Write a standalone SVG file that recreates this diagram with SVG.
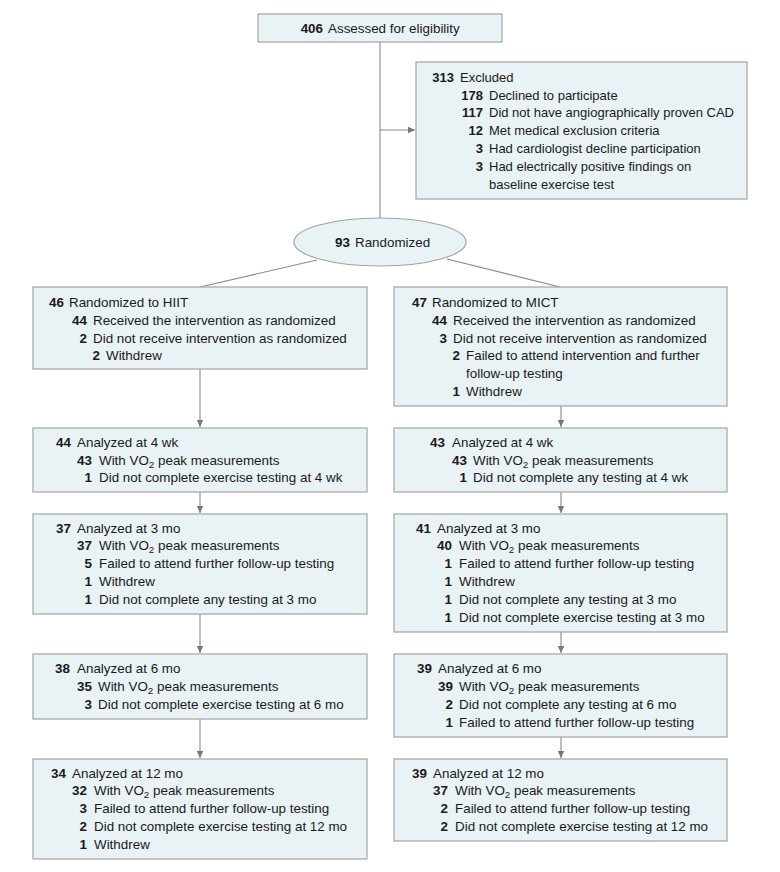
<svg xmlns="http://www.w3.org/2000/svg" width="780" height="872" viewBox="0 0 780 872">
<style>
.box{fill:#e9f2f5;stroke:#a3a3a3;stroke-width:1.2}
.ln{stroke:#8a8a8a;stroke-width:1.1;fill:none}
text{font-family:"Liberation Sans",Arial,sans-serif;font-size:13.4px;fill:#1a1a1a}
#excluded text{font-size:13px}
.n{font-weight:bold;text-anchor:end}
.s{font-size:9.8px}
</style>
<defs>
<marker id="ah" markerWidth="8" markerHeight="8" refX="7" refY="4" orient="auto" markerUnits="userSpaceOnUse">
<path d="M0,0.8 L7,4 L0,7.2 Z" fill="#777"/>
</marker>
</defs>
<rect width="780" height="872" fill="#fff"/>
<g id="connectors">
<line class="ln" x1="380" y1="42" x2="380" y2="218"/>
<line class="ln" x1="380" y1="130" x2="415" y2="130" marker-end="url(#ah)"/>
<line class="ln" x1="317" y1="260" x2="200" y2="287"/>
<line class="ln" x1="447" y1="259" x2="560" y2="287"/>
<line class="ln" x1="200" y1="369" x2="200" y2="427" marker-end="url(#ah)"/>
<line class="ln" x1="200" y1="492" x2="200" y2="513" marker-end="url(#ah)"/>
<line class="ln" x1="200" y1="614" x2="200" y2="653" marker-end="url(#ah)"/>
<line class="ln" x1="200" y1="719" x2="200" y2="758" marker-end="url(#ah)"/>
<line class="ln" x1="561" y1="406" x2="561" y2="427" marker-end="url(#ah)"/>
<line class="ln" x1="561" y1="492" x2="561" y2="513" marker-end="url(#ah)"/>
<line class="ln" x1="561" y1="632" x2="561" y2="653" marker-end="url(#ah)"/>
<line class="ln" x1="561" y1="737" x2="561" y2="758" marker-end="url(#ah)"/>
</g>
<g id="assessed">
<rect class="box" x="258" y="14" width="244" height="28"/>
<text class="n" x="323" y="33">406</text><text x="328" y="33">Assessed for eligibility</text>
</g>
<g id="excluded">
<rect class="box" x="416" y="62" width="331" height="137"/>
<text class="n" x="454" y="82">313</text><text x="460" y="82">Excluded</text>
<text class="n" x="483" y="99.5">178</text><text x="489" y="99.5">Declined to participate</text>
<text class="n" x="483" y="117">117</text><text x="489" y="117">Did not have angiographically proven CAD</text>
<text class="n" x="483" y="135">12</text><text x="489" y="135">Met medical exclusion criteria</text>
<text class="n" x="483" y="153">3</text><text x="489" y="153">Had cardiologist decline participation</text>
<text class="n" x="483" y="171">3</text><text x="489" y="171">Had electrically positive findings on</text>
<text x="489" y="188.5">baseline exercise test</text>
</g>
<g id="randomized">
<ellipse class="box" cx="380" cy="242" rx="86" ry="24"/>
<text class="n" x="350" y="247">93</text><text x="355" y="247">Randomized</text>
</g>
<g id="hiit">
<rect class="box" x="33" y="287" width="334" height="82"/>
<text class="n" x="64" y="307">46</text><text x="69" y="307">Randomized to HIIT</text>
<text class="n" x="87" y="325">44</text><text x="93" y="325">Received the intervention as randomized</text>
<text class="n" x="87" y="342.5">2</text><text x="93" y="342.5">Did not receive intervention as randomized</text>
<text class="n" x="100" y="360">2</text><text x="106" y="360">Withdrew</text>
</g>
<g id="mict">
<rect class="box" x="394" y="287" width="333" height="119"/>
<text class="n" x="427" y="307">47</text><text x="432" y="307">Randomized to MICT</text>
<text class="n" x="447" y="325">44</text><text x="453" y="325">Received the intervention as randomized</text>
<text class="n" x="447" y="342.5">3</text><text x="453" y="342.5">Did not receive intervention as randomized</text>
<text class="n" x="460" y="360">2</text><text x="466" y="360">Failed to attend intervention and further</text>
<text x="466" y="378">follow-up testing</text>
<text class="n" x="460" y="396">1</text><text x="466" y="396">Withdrew</text>
</g>
<g id="hiit-4wk">
<rect class="box" x="33" y="428" width="334" height="64"/>
<text class="n" x="71" y="447">44</text><text x="77" y="447">Analyzed at 4 wk</text>
<text class="n" x="92" y="464.5">43</text><text x="99" y="464.5">With VO<tspan class="s" dy="3">2</tspan><tspan dy="-3"> peak measurements</tspan></text>
<text class="n" x="92" y="482">1</text><text x="99" y="482">Did not complete exercise testing at 4 wk</text>
</g>
<g id="mict-4wk">
<rect class="box" x="394" y="428" width="333" height="64"/>
<text class="n" x="445" y="447">43</text><text x="452" y="447">Analyzed at 4 wk</text>
<text class="n" x="467" y="464.5">43</text><text x="473" y="464.5">With VO<tspan class="s" dy="3">2</tspan><tspan dy="-3"> peak measurements</tspan></text>
<text class="n" x="467" y="482">1</text><text x="473" y="482">Did not complete any testing at 4 wk</text>
</g>
<g id="hiit-3mo">
<rect class="box" x="33" y="514" width="334" height="100"/>
<text class="n" x="71" y="532.5">37</text><text x="77" y="532.5">Analyzed at 3 mo</text>
<text class="n" x="92" y="550">37</text><text x="99" y="550">With VO<tspan class="s" dy="3">2</tspan><tspan dy="-3"> peak measurements</tspan></text>
<text class="n" x="92" y="568">5</text><text x="99" y="568">Failed to attend further follow-up testing</text>
<text class="n" x="92" y="586">1</text><text x="99" y="586">Withdrew</text>
<text class="n" x="92" y="604">1</text><text x="99" y="604">Did not complete any testing at 3 mo</text>
</g>
<g id="mict-3mo">
<rect class="box" x="394" y="514" width="333" height="118"/>
<text class="n" x="431" y="532.5">41</text><text x="437" y="532.5">Analyzed at 3 mo</text>
<text class="n" x="452" y="550">40</text><text x="459" y="550">With VO<tspan class="s" dy="3">2</tspan><tspan dy="-3"> peak measurements</tspan></text>
<text class="n" x="452" y="568">1</text><text x="459" y="568">Failed to attend further follow-up testing</text>
<text class="n" x="452" y="586">1</text><text x="459" y="586">Withdrew</text>
<text class="n" x="452" y="604">1</text><text x="459" y="604">Did not complete any testing at 3 mo</text>
<text class="n" x="452" y="622">1</text><text x="459" y="622">Did not complete exercise testing at 3 mo</text>
</g>
<g id="hiit-6mo">
<rect class="box" x="33" y="654" width="334" height="65"/>
<text class="n" x="70" y="673">38</text><text x="77" y="673">Analyzed at 6 mo</text>
<text class="n" x="92" y="691">35</text><text x="98" y="691">With VO<tspan class="s" dy="3">2</tspan><tspan dy="-3"> peak measurements</tspan></text>
<text class="n" x="92" y="709">3</text><text x="98" y="709">Did not complete exercise testing at 6 mo</text>
</g>
<g id="mict-6mo">
<rect class="box" x="394" y="654" width="333" height="83"/>
<text class="n" x="432" y="673">39</text><text x="438" y="673">Analyzed at 6 mo</text>
<text class="n" x="453" y="691">39</text><text x="459" y="691">With VO<tspan class="s" dy="3">2</tspan><tspan dy="-3"> peak measurements</tspan></text>
<text class="n" x="453" y="709">2</text><text x="459" y="709">Did not complete any testing at 6 mo</text>
<text class="n" x="453" y="727">1</text><text x="459" y="727">Failed to attend further follow-up testing</text>
</g>
<g id="hiit-12mo">
<rect class="box" x="33" y="759" width="334" height="100"/>
<text class="n" x="66" y="777.5">34</text><text x="72" y="777.5">Analyzed at 12 mo</text>
<text class="n" x="87" y="795">32</text><text x="94" y="795">With VO<tspan class="s" dy="3">2</tspan><tspan dy="-3"> peak measurements</tspan></text>
<text class="n" x="87" y="813">3</text><text x="94" y="813">Failed to attend further follow-up testing</text>
<text class="n" x="87" y="831">2</text><text x="94" y="831">Did not complete exercise testing at 12 mo</text>
<text class="n" x="87" y="849">1</text><text x="94" y="849">Withdrew</text>
</g>
<g id="mict-12mo">
<rect class="box" x="394" y="759" width="333" height="82"/>
<text class="n" x="427" y="777.5">39</text><text x="433" y="777.5">Analyzed at 12 mo</text>
<text class="n" x="448" y="795">37</text><text x="455" y="795">With VO<tspan class="s" dy="3">2</tspan><tspan dy="-3"> peak measurements</tspan></text>
<text class="n" x="448" y="813">2</text><text x="455" y="813">Failed to attend further follow-up testing</text>
<text class="n" x="448" y="831">2</text><text x="455" y="831">Did not complete exercise testing at 12 mo</text>
</g>
</svg>
